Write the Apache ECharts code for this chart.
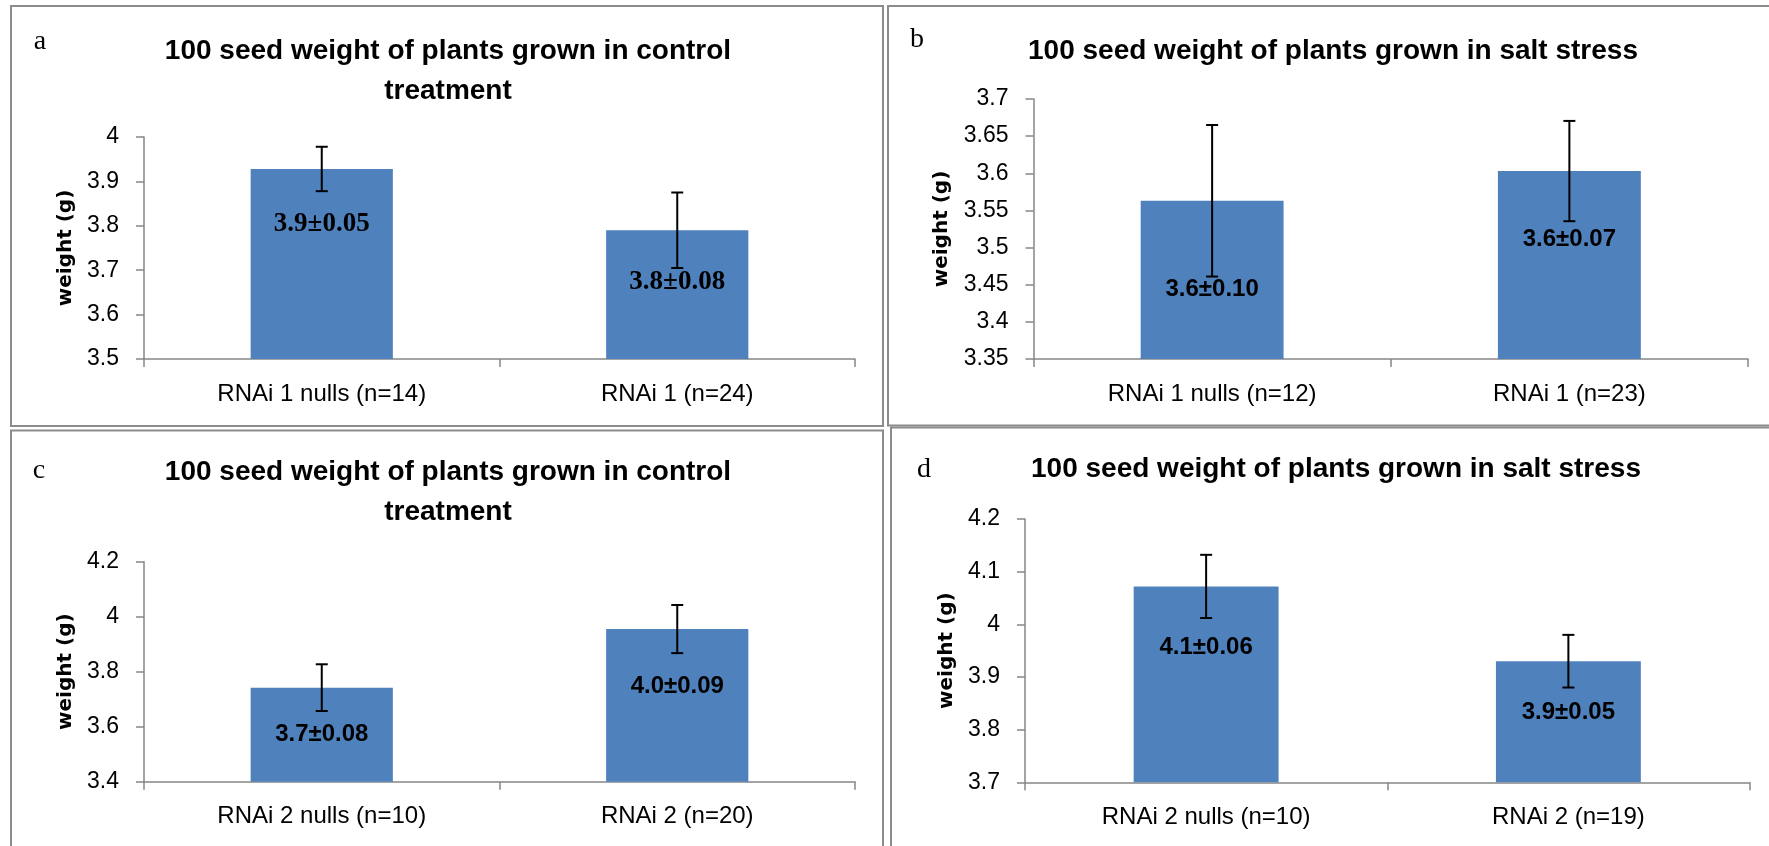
<!DOCTYPE html>
<html>
<head>
<meta charset="utf-8">
<script src="https://cdn.jsdelivr.net/npm/echarts@6/dist/echarts.min.js"></script>
<style>
html,body{margin:0;padding:0;background:#fff;}
#chart{width:1769px;height:846px;}
</style>
</head>
<body>
<div id="chart"></div>
<script>
// ---- data ----
const titleA = '100 seed weight of plants grown in control\ntreatment';
const titleB = '100 seed weight of plants grown in salt stress';
const titleC = '100 seed weight of plants grown in control\ntreatment';
const titleD = '100 seed weight of plants grown in salt stress';
const panelLetters = ['a', 'b', 'c', 'd'];
const yAxisName = 'weight (g)';

const catsA = ['RNAi 1 nulls (n=14)', 'RNAi 1 (n=24)'];
const meanA = [3.928, 3.790];
const errA = [0.05, 0.085];
const lblA = ['3.9±0.05', '3.8±0.08'];

const catsB = ['RNAi 1 nulls (n=12)', 'RNAi 1 (n=23)'];
const meanB = [3.563, 3.603];
const errB = [0.102, 0.0675];
const lblB = ['3.6±0.10', '3.6±0.07'];

const catsC = ['RNAi 2 nulls (n=10)', 'RNAi 2 (n=20)'];
const meanC = [3.742, 3.955];
const errC = [0.085, 0.0875];
const lblC = ['3.7±0.08', '4.0±0.09'];

const catsD = ['RNAi 2 nulls (n=10)', 'RNAi 2 (n=19)'];
const meanD = [4.072, 3.930];
const errD = [0.06, 0.05];
const lblD = ['4.1±0.06', '3.9±0.05'];

// y axis ranges: [min, max, interval]
const yRangeA = [3.5, 4.0, 0.1];
const yRangeB = [3.35, 3.7, 0.05];
const yRangeC = [3.4, 4.2, 0.2];
const yRangeD = [3.7, 4.2, 0.1];

// ---- layout / style (not data) ----
const BAR = '#4F81BD';
const AXIS = '#868686';
const FRAME = '#8c8c8c';
const panels = [
  { cats: catsA, mean: meanA, err: errA, lbl: lblA, yr: yRangeA, title: titleA,
    grid: { left: 144, top: 137, width: 711, height: 222 }, nameGap: 68,
    labelDrop: [55, 52], labelFont: 'Liberation Serif', labelSize: 27,
    titlePos: [448, 71], letterPos: [40, 42] },
  { cats: catsB, mean: meanB, err: errB, lbl: lblB, yr: yRangeB, title: titleB,
    grid: { left: 1033.5, top: 99, width: 714.5, height: 260 }, nameGap: 82,
    labelDrop: [89, 68], labelFont: 'Liberation Sans', labelSize: 24,
    titlePos: [1333, 51], letterPos: [917, 40] },
  { cats: catsC, mean: meanC, err: errC, lbl: lblC, yr: yRangeC, title: titleC,
    grid: { left: 144, top: 561.7, width: 711, height: 220 }, nameGap: 68,
    labelDrop: [47, 57], labelFont: 'Liberation Sans', labelSize: 24,
    titlePos: [448, 492], letterPos: [39, 471] },
  { cats: catsD, mean: meanD, err: errD, lbl: lblD, yr: yRangeD, title: titleD,
    grid: { left: 1025, top: 519, width: 724.5, height: 263.3 }, nameGap: 68,
    labelDrop: [61, 51], labelFont: 'Liberation Sans', labelSize: 24,
    titlePos: [1336, 469], letterPos: [924, 470] }
];

const grids = [], xAxes = [], yAxes = [], series = [];
panels.forEach((p, k) => {
  grids.push(Object.assign({ containLabel: false }, p.grid));
  xAxes.push({
    type: 'category', gridIndex: k, data: p.cats,
    axisLine: { show: true, lineStyle: { color: AXIS, width: 1.5 } },
    axisTick: { show: true, length: 8, lineStyle: { color: AXIS, width: 1.5 } },
    axisLabel: { color: '#000', fontSize: 24, fontFamily: 'Liberation Sans', margin: 23 },
    splitLine: { show: false }
  });
  yAxes.push({
    type: 'value', gridIndex: k, min: p.yr[0], max: p.yr[1], interval: p.yr[2],
    name: yAxisName, nameLocation: 'middle', nameRotate: 90, nameGap: p.nameGap,
    nameTextStyle: { fontFamily: 'DejaVu Sans', fontWeight: 'bold', fontSize: 20, color: '#000' },
    axisLine: { show: true, lineStyle: { color: AXIS, width: 1.5 } },
    axisTick: { show: true, length: 8, lineStyle: { color: AXIS, width: 1.5 } },
    axisLabel: { color: '#000', fontSize: 23, fontFamily: 'Liberation Sans', margin: 25 },
    splitLine: { show: false }
  });
  series.push({
    type: 'bar', xAxisIndex: k, yAxisIndex: k, barWidth: '40%',
    itemStyle: { color: BAR },
    data: p.mean.map((v, i) => ({
      value: v,
      label: {
        show: true, position: 'insideTop', distance: 0, verticalAlign: 'middle',
        offset: [0, p.labelDrop[i]], formatter: p.lbl[i],
        fontFamily: p.labelFont, fontWeight: 'bold', fontSize: p.labelSize, color: '#000'
      }
    }))
  });
  series.push({
    type: 'custom', xAxisIndex: k, yAxisIndex: k, z: 10,
    data: p.mean.map((v, i) => [i, v, p.err[i]]),
    renderItem: function (params, api) {
      const x = api.value(0), m = api.value(1), e = api.value(2);
      const hi = api.coord([x, m + e]);
      const lo = api.coord([x, m - e]);
      const cap = 6;
      const st = { stroke: '#000', lineWidth: 2 };
      return {
        type: 'group',
        children: [
          { type: 'line', shape: { x1: hi[0], y1: hi[1], x2: lo[0], y2: lo[1] }, style: st },
          { type: 'line', shape: { x1: hi[0] - cap, y1: hi[1], x2: hi[0] + cap, y2: hi[1] }, style: st },
          { type: 'line', shape: { x1: lo[0] - cap, y1: lo[1], x2: lo[0] + cap, y2: lo[1] }, style: st }
        ]
      };
    }
  });
});

const graphics = [
  { type: 'rect', shape: { x: 11, y: 6, width: 872, height: 420 }, style: { fill: 'none', stroke: FRAME, lineWidth: 2 }, silent: true },
  { type: 'rect', shape: { x: 888, y: 6, width: 900, height: 419.5 }, style: { fill: 'none', stroke: FRAME, lineWidth: 2 }, silent: true },
  { type: 'rect', shape: { x: 11, y: 430.5, width: 872, height: 440 }, style: { fill: 'none', stroke: FRAME, lineWidth: 2 }, silent: true },
  { type: 'rect', shape: { x: 891, y: 427.5, width: 900, height: 440 }, style: { fill: 'none', stroke: FRAME, lineWidth: 2 }, silent: true }
];
panels.forEach((p, k) => {
  graphics.push({
    type: 'text', silent: true,
    style: { text: p.title, x: p.titlePos[0], y: p.titlePos[1], textAlign: 'center', textVerticalAlign: 'middle',
      font: 'bold 28px "Liberation Sans"', lineHeight: 40, fill: '#000' }
  });
  graphics.push({
    type: 'text', silent: true,
    style: { text: panelLetters[k], x: p.letterPos[0], y: p.letterPos[1], textAlign: 'center', textVerticalAlign: 'middle',
      font: '28px "Liberation Serif"', fill: '#000' }
  });
});

const chart = echarts.init(document.getElementById('chart'), null, { renderer: 'canvas' });
chart.setOption({
  backgroundColor: '#fff',
  animation: false,
  grid: grids,
  xAxis: xAxes,
  yAxis: yAxes,
  series: series,
  graphic: graphics
});
</script>
</body>
</html>
